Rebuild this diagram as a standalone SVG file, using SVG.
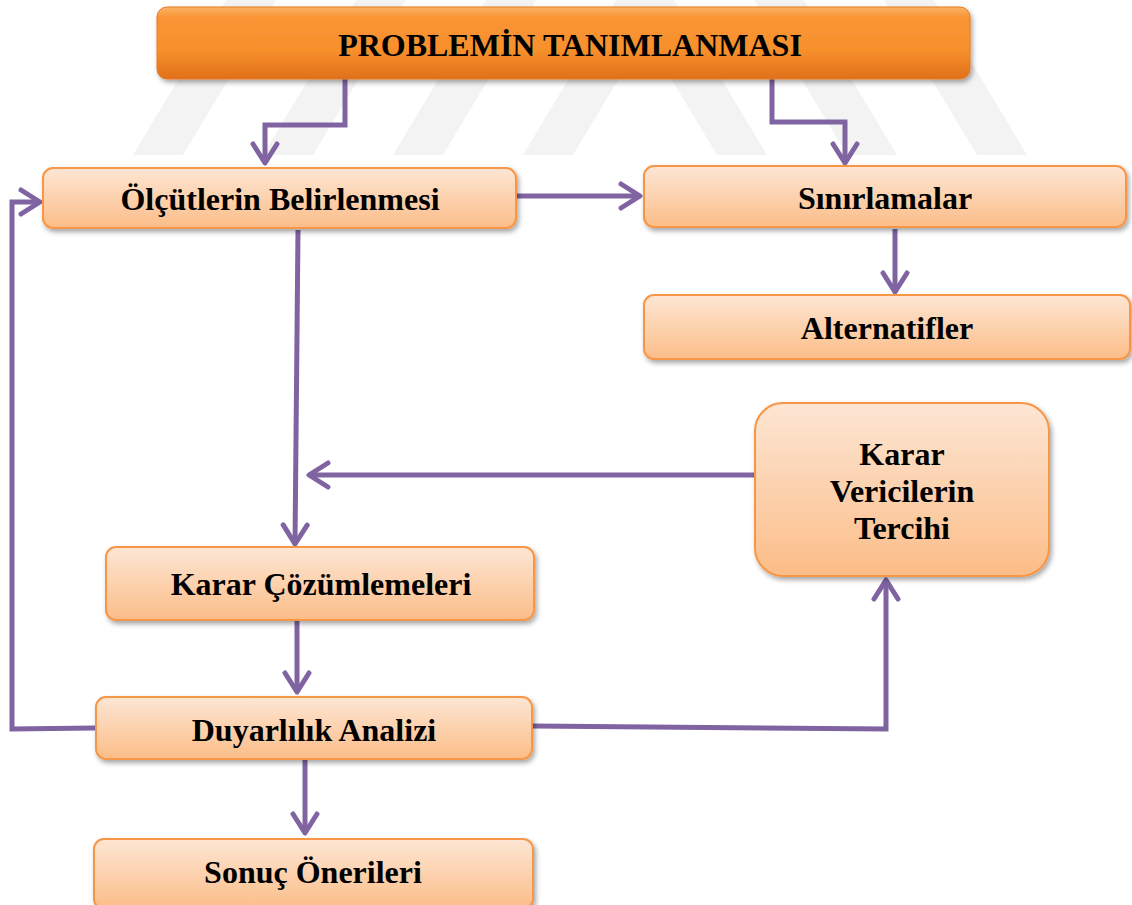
<svg xmlns="http://www.w3.org/2000/svg" width="1132" height="905" viewBox="0 0 1132 905">
<defs>
<linearGradient id="gTop" x1="0" y1="0" x2="0" y2="1">
<stop offset="0" stop-color="#fbb366"/>
<stop offset="0.15" stop-color="#f99434"/>
<stop offset="0.6" stop-color="#f7902c"/>
<stop offset="1" stop-color="#e0701a"/>
</linearGradient>
<linearGradient id="gNode" x1="0" y1="0" x2="0" y2="1">
<stop offset="0" stop-color="#fde6d4"/>
<stop offset="1" stop-color="#fbbd88"/>
</linearGradient>
<filter id="sh" x="-10%" y="-20%" width="120%" height="150%">
<feDropShadow dx="2" dy="3" stdDeviation="2.5" flood-color="#000" flood-opacity="0.35"/>
</filter>
<marker id="arr" viewBox="-24 -15 28 30" markerWidth="28" markerHeight="30" refX="0" refY="0" orient="auto" markerUnits="userSpaceOnUse">
<path d="M-19,-12 L0,0 L-19,12" fill="none" stroke="#8064a2" stroke-width="5" stroke-linecap="round" stroke-linejoin="round"/>
</marker>
</defs>
<style>
.node{fill:url(#gNode);stroke:#f79646;stroke-width:2;filter:url(#sh)}
.top{fill:url(#gTop);stroke:#e8781e;stroke-width:1;filter:url(#sh)}
.t{font-family:"Liberation Serif","Times New Roman",serif;font-weight:bold;font-size:32px;fill:#000;text-anchor:middle}
.c{fill:none;stroke:#8064a2;stroke-width:5;stroke-linejoin:miter}
.wm{fill:#f3f3f3}
</style>
<rect width="1132" height="905" fill="#fff"/>
<g id="watermark">
<polygon class="wm" points="133,155 183,155 276,0 226,0"/>
<polygon class="wm" points="263,155 313,155 406,0 356,0"/>
<polygon class="wm" points="393,155 443,155 536,0 486,0"/>
<polygon class="wm" points="523,155 573,155 666,0 616,0"/>
<polygon class="wm" points="977,155 1027,155 934,0 884,0"/>
<polygon class="wm" points="847,155 897,155 804,0 754,0"/>
<polygon class="wm" points="717,155 767,155 674,0 624,0"/>
</g>
<g id="connectors">
<path class="c" d="M345,79 V125 H265 V163" marker-end="url(#arr)"/>
<path class="c" d="M772,79 V122 H845 V163" marker-end="url(#arr)"/>
<path class="c" d="M517,196 L640,196" marker-end="url(#arr)"/>
<path class="c" d="M895,229 V292" marker-end="url(#arr)"/>
<path class="c" d="M298,230 L295,544" marker-end="url(#arr)"/>
<path class="c" d="M755,475 H309" marker-end="url(#arr)"/>
<path class="c" d="M297,621 V692" marker-end="url(#arr)"/>
<path class="c" d="M95,728 L12,729 V202 H40" marker-end="url(#arr)"/>
<path class="c" d="M533,726 L886,729 V580" marker-end="url(#arr)"/>
<path class="c" d="M305,760 V833" marker-end="url(#arr)"/>
</g>
<g id="n-problem">
<rect class="top" x="157" y="7" width="813" height="72" rx="10"/>
<text class="t" x="570" y="56">PROBLEMİN TANIMLANMASI</text>
</g>
<g id="n-olcut">
<rect class="node" x="43" y="168" width="473" height="60" rx="10"/>
<text class="t" x="280" y="210">Ölçütlerin Belirlenmesi</text>
</g>
<g id="n-sinir">
<rect class="node" x="644" y="166" width="482" height="61" rx="10"/>
<text class="t" x="885" y="209">Sınırlamalar</text>
</g>
<g id="n-alt">
<rect class="node" x="644" y="295" width="486" height="64" rx="10"/>
<text class="t" x="887" y="339">Alternatifler</text>
</g>
<g id="n-karar-verici">
<rect class="node" x="755" y="403" width="294" height="173" rx="28"/>
<text class="t" x="902" y="465">Karar</text>
<text class="t" x="902" y="502">Vericilerin</text>
<text class="t" x="902" y="539">Tercihi</text>
</g>
<g id="n-cozum">
<rect class="node" x="106" y="547" width="428" height="73" rx="10"/>
<text class="t" x="321" y="595">Karar Çözümlemeleri</text>
</g>
<g id="n-duyar">
<rect class="node" x="96" y="697" width="436" height="62" rx="10"/>
<text class="t" x="314" y="741">Duyarlılık Analizi</text>
</g>
<g id="n-sonuc">
<rect class="node" x="94" y="839" width="439" height="70" rx="10"/>
<text class="t" x="313" y="883">Sonuç Önerileri</text>
</g>
</svg>
